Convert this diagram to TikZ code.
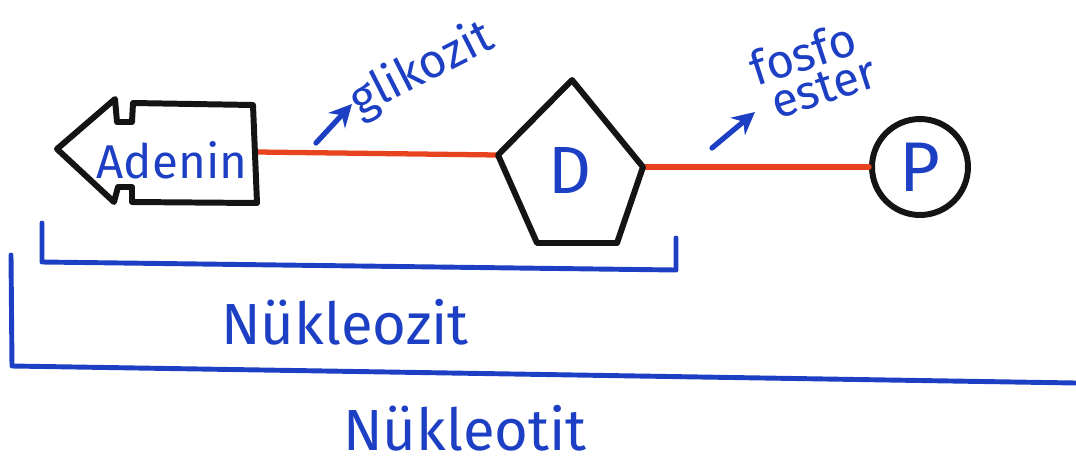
\documentclass[tikz,border=0pt]{standalone}
\usepackage{fontspec}
\setmainfont{Fira Sans}
\usetikzlibrary{arrows.meta, positioning}
\definecolor{pen}{HTML}{1C3FC4}
\definecolor{bond}{HTML}{E8431F}
\definecolor{ink}{HTML}{141414}
\tikzset{
  every picture/.style={line join=round, line cap=round},
  outline/.style={draw=ink, line width=3.4pt},
  bondline/.style={draw=bond, line width=3pt},
  brace/.style={draw=pen, line width=2.8pt},
  label/.style={text=pen, inner sep=0pt},
  pointer/.style={-{Stealth[length=4.5mm, width=4.5mm]}, draw=pen, line width=3pt},
}
\newcommand{\fs}[1]{\fontsize{#1}{#1}\selectfont}

\begin{document}
\begin{tikzpicture}[x=0.02cm, y=-0.02cm,
                    big/.style={label, font=\fs{33}},
                    tag/.style={label, font=\fs{27}}]
  \useasboundingbox (0,0) rectangle (1076,464);
  \coordinate (adeninR) at (257,152);
  \coordinate (sT) at (572,80);
  \coordinate (sL) at (498,155);
  \coordinate (sR) at (643,167);
  \coordinate (sBR) at (617,243);
  \coordinate (sBL) at (537,243);
  \node[circle, outline, label, minimum size=1.92cm, font=\fs{40}] (fosfat) at (920,167) {P};
  \draw[bondline] (adeninR) -- (sL);
  \draw[bondline] (sR) -- (fosfat);
  \draw[outline] (57,149) -- (115,99) -- (117,122) -- (132,122) -- (133,103) -- (253,105)
    -- (257,203) -- (132,202) -- (132,187) -- (118,187) -- (114,202) -- cycle;
  \node[tag, font=\fs{27}] (adenin) at (172,160) {Adenin};
  \draw[outline] (sT) -- (sR) -- (sBR) -- (sBL) -- (sL) -- cycle;
  \node[label, font=\fs{38}] (deoksi) at (570,170) {D};
  \node[tag, rotate=27] (glikozit) at (422,70) {glikozit};
  \coordinate (g0) at (316,143);
  \coordinate (g1) at (352,104);
  \draw[pointer] (g0) -- (g1);
  \node[tag, rotate=18] (fosfo) at (803,53) {fosfo};
  \node[tag, rotate=18] (ester) at (824,88) {ester};
  \coordinate (f0) at (712,148);
  \coordinate (f1) at (755,112);
  \draw[pointer] (f0) -- (f1);
  \draw[brace] (42,223) -- (42,262) -- (676,270) -- (676,238);
  \node[big] (nukleozit) at (345,322) {Nükleozit};
  \draw[brace] (11,255) -- (12,366) -- (1076,383);
  \node[big] (nukleotit) at (465,428) {Nükleotit};
\end{tikzpicture}
\end{document}
